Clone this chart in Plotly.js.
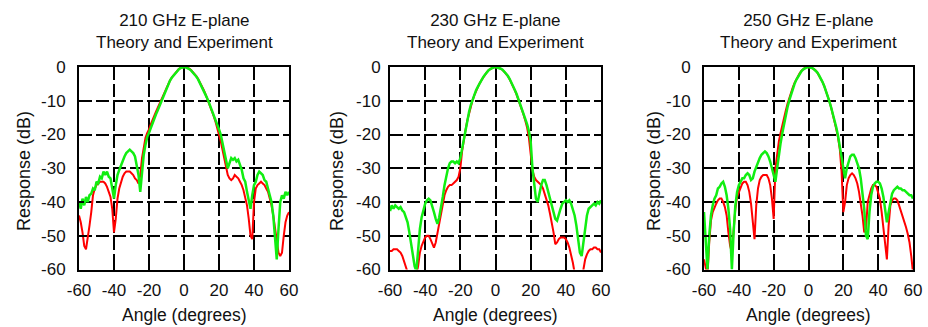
<!DOCTYPE html>
<html>
<head>
<meta charset="utf-8">
<script src="https://cdn.plot.ly/plotly-3.0.1.min.js"></script>
<style>html,body{margin:0;padding:0;background:#fff;}#chart{width:928px;height:327px;}</style>
</head>
<body>
<div id="chart"></div>
<script>
// ---------------- DATA ----------------
const PANEL_TITLES = ["210 GHz E-plane", "230 GHz E-plane", "250 GHz E-plane"];
const SUBTITLE = "Theory and Experiment";
const X_LABEL = "Angle (degrees)";
const Y_LABEL = "Response (dB)";
const X_TICKS = [-60, -40, -20, 0, 20, 40, 60];
const X_TICK_TEXT = ["-60", "-40", "-20", "0", "20", "40", "60"];
const Y_TICKS = [0, -10, -20, -30, -40, -50, -60];
const Y_TICK_TEXT = ["0", "-10", "-20", "-30", "-40", "-50", "-60"];

const ANGLE = [-60,-59,-58,-57,-56,-55,-54,-53,-52,-51,-50,-49,-48,-47,-46,-45,-44,-43,-42,-41,
-40,-39,-38,-37,-36,-35,-34,-33,-32,-31,-30,-29,-28,-27,-26,-25,-24,-23,-22,-21,
-20,-19,-18,-17,-16,-15,-14,-13,-12,-11,-10,-9,-8,-7,-6,-5,-4,-3,-2,-1,0,
1,2,3,4,5,6,7,8,9,10,11,12,13,14,15,16,17,18,19,20,
21,22,23,24,25,26,27,28,29,30,31,32,33,34,35,36,37,38,39,40,
41,42,43,44,45,46,47,48,49,50,51,52,53,54,55,56,57,58,59,60];

// 210 GHz
const THEORY_210 = [-44,-46,-49,-53,-54,-51,-47,-43,-38,-36,
-35,-34.5,-34,-34,-34,-34.5,-35.5,-37,-38.5,-42,
-49,-45,-39,-36,-34,-32.5,-31.5,-31,-31,-31,
-31.5,-32,-33,-33.5,-34.5,-32,-27,-23.5,-21,-19.5,
-18.5,-17,-15.5,-14.5,-13.2,-12,-10.8,-9.6,-8.4,-7.2,
-6,-5,-4,-3.1,-2.4,-1.7,-1.1,-0.6,-0.3,-0.1,
0,
0,-0.2,-0.5,-0.9,-1.4,-2,-2.7,-3.5,-4.4,-5.4,
-6.5,-7.7,-9,-10.3,-11.7,-13.1,-14.6,-16.2,-18,-20,
-22,-24.5,-27,-30,-32,-33,-33.5,-33,-32,-32.5,
-33,-34,-35,-36.5,-38.5,-41,-45,-50,-51,-40,
-36,-35,-34.5,-34,-34.5,-35,-36,-37,-39,-41,
-44,-48,-51,-55,-56,-55,-50,-46,-44,-43];
const EXPERIMENT_210 = [-40,-42,-39,-41,-38.5,-40,-38,-37.5,-36,-36.5,
-34,-34.5,-32.5,-33,-31,-32,-31,-32.5,-33,-36,
-39,-35,-32,-30.5,-29,-27.5,-26.5,-25.5,-25,-24.5,
-25,-25.5,-26.5,-29,-32,-37,-30,-26,-23,-20.7,
-19.5,-18,-16.7,-15.3,-14,-12.8,-11.5,-10.3,-9,-7.5,
-6.2,-5,-4,-3.2,-2.5,-1.8,-1.2,-0.7,-0.3,-0.1,
0,
-0.1,-0.3,-0.6,-1,-1.5,-2.1,-2.8,-3.6,-4.6,-5.6,
-6.8,-8,-9,-10.2,-11.5,-12.8,-14,-15.5,-17,-18.5,
-20,-22.5,-25,-28,-30,-28.5,-27,-27.5,-27,-28,
-27.5,-29,-30.5,-33,-34,-37,-40,-42,-38,-35,
-34,-32,-31,-31.5,-32,-33.5,-34,-36,-38,-40,
-44,-50,-57,-48,-40,-38,-39,-37,-38,-37];

// 230 GHz
const THEORY_230 = [-54.5,-54.5,-54,-54,-54,-54.5,-55,-56,-57.5,-59,
-61,-63,-64,-64,-63,-61.5,-59,-55,-53,-51.5,
-50.5,-50,-50,-51,-52.5,-53.5,-52,-49,-46.5,-43,
-40,-38,-36.5,-35.5,-35,-35,-34.5,-34,-33.5,-32.5,
-30,-25,-21,-18.5,-15.8,-13.5,-11.5,-9.8,-8.3,-7,
-5.9,-4.8,-3.9,-3,-2.3,-1.6,-1,-0.6,-0.3,-0.1,
0,
0,-0.2,-0.5,-0.9,-1.4,-2,-2.7,-3.6,-4.6,-5.7,
-6.9,-8.2,-9.6,-11,-12.6,-14.2,-16,-18,-21,-26,
-30.5,-32.5,-33.5,-34,-34.5,-35,-36,-37.5,-39,-41,
-43.5,-46,-49,-52.5,-52,-51,-50.5,-50.5,-50.5,-51,
-52,-53.5,-55.5,-58,-61,-63,-64,-63,-62,-60,
-57,-55.5,-54.5,-54,-54,-53.5,-53.5,-54,-54,-55];
const EXPERIMENT_230 = [-42.7,-41,-42,-41,-41.5,-42,-41.5,-42.5,-43,-44.5,
-46,-49,-52,-56,-59,-60.5,-53,-48,-44.5,-42,
-40.5,-39.5,-39,-39.5,-41,-43,-45,-46.5,-44.5,-42,
-38.5,-35,-32,-30,-28.5,-28,-28,-28.5,-28,-28.5,
-27,-24,-21,-18,-15.5,-13.2,-11.2,-9.5,-8,-6.8,
-5.8,-4.8,-3.8,-3,-2.3,-1.6,-1,-0.6,-0.3,-0.1,
0,
-0.1,-0.2,-0.5,-0.8,-1.3,-1.9,-2.6,-3.5,-4.5,-5.6,
-6.8,-8,-9.4,-10.8,-12.3,-13.8,-15.5,-17,-19,-22,
-30,-35,-39,-40,-37,-35,-33.5,-33.5,-35,-37,
-39,-41,-43,-45,-45.5,-43.5,-42,-40.5,-40,-39.5,
-40,-39.5,-40.5,-42,-44,-47,-51,-55,-56,-52,
-47,-44,-42,-41.5,-41,-40.5,-41,-40,-40.5,-39.5];

// 250 GHz
const THEORY_250 = [-57,-60,-62,-52,-45.5,-43,-41.5,-40.5,-39.5,-39,
-39,-40,-41.5,-44,-49,-53,-55,-48,-42,-38.5,
-37,-35.5,-34.5,-34,-34,-35,-37,-40.5,-47,-51,
-41,-36,-33.5,-32.5,-32,-32,-32,-33,-35,-39,
-45,-30,-25,-22,-19.5,-17,-14.8,-12.8,-10.8,-9,
-7.4,-6,-4.7,-3.6,-2.6,-1.8,-1.1,-0.6,-0.2,0,
0,
-0.1,-0.3,-0.6,-1,-1.6,-2.4,-3.3,-4.4,-5.6,-7,
-8.5,-10.2,-12,-14,-16,-18.5,-21,-24.5,-31,-43,
-40,-35,-33,-32,-31.5,-32,-33,-34.5,-37,-40,
-44,-49,-48,-40,-37.5,-36,-35,-35,-35.5,-37,
-39,-43,-48,-53,-57,-47,-41,-39.5,-39,-39,
-39.5,-41,-42.5,-44,-46,-47.5,-49.5,-52,-56,-61];
const EXPERIMENT_250 = [-43,-52,-60,-50,-44,-41,-39,-38,-36,-35.5,
-34.5,-34,-35.5,-38,-42,-48,-60,-49,-41,-37,
-35,-34,-33,-33,-32,-31.5,-32,-33.5,-33,-31,
-29.5,-28.5,-27,-26,-25.5,-25,-25.5,-26.5,-28,-30,
-32,-34,-30,-25.5,-22.5,-19.5,-16.5,-14,-11.8,-9.8,
-8,-6.4,-5,-3.8,-2.8,-1.9,-1.2,-0.7,-0.3,-0.1,
0,
-0.1,-0.3,-0.6,-1,-1.6,-2.4,-3.3,-4.4,-5.6,-7,
-8.5,-10.2,-12,-13.8,-15.8,-18,-20.5,-23.5,-26.5,-30,
-33,-30,-28,-26.5,-26,-26,-27,-28.5,-30,-33,
-37,-42,-50,-51,-43,-38,-35.5,-34.5,-34,-34,
-34.5,-36,-38.5,-42,-46,-43,-39.5,-37.5,-36.5,-36,
-35.5,-36,-36,-36.5,-36.5,-37,-37.5,-38,-38,-39];

const THEORY = [THEORY_210, THEORY_230, THEORY_250];
const EXPERIMENT = [EXPERIMENT_210, EXPERIMENT_230, EXPERIMENT_250];

// ---------------- LAYOUT ----------------
const W = 928, H = 327;
const FONT = "Liberation Sans, Arial, Helvetica, sans-serif";
const INK = "#111111";
const PLOT_X = [[79, 289], [390, 601], [704, 913]];
const PLOT_TOP = 67, PLOT_BOTTOM = 269.5;
const YLAB_X = [24, 337, 654];
const Y_STANDOFF = [8, 4, 8];
const px = v => v / W;
const py = v => 1 - v / H;

const traces = [];
const layout = {
  width: W, height: H,
  margin: {l: 0, r: 0, t: 0, b: 0},
  paper_bgcolor: "#ffffff", plot_bgcolor: "#ffffff",
  showlegend: false,
  font: {family: FONT, color: INK, size: 17},
  annotations: []
};

for (let i = 0; i < 3; i++) {
  const sfx = i === 0 ? "" : String(i + 1);
  traces.push({
    type: "scatter", mode: "lines", x: ANGLE, y: THEORY[i],
    xaxis: "x" + sfx, yaxis: "y" + sfx, name: "Theory",
    line: {color: "#ff0000", width: 2}
  });
  traces.push({
    type: "scatter", mode: "lines", x: ANGLE, y: EXPERIMENT[i],
    xaxis: "x" + sfx, yaxis: "y" + sfx, name: "Experiment",
    line: {color: "#11ee11", width: 2.5}
  });
  const common = {
    showgrid: true, gridcolor: "#000000", gridwidth: 2, griddash: "13px,4px",
    showline: true, linecolor: "#000000", linewidth: 2, mirror: true,
    ticks: "inside", ticklen: 5, tickwidth: 2, tickcolor: "#000000",
    zeroline: false, fixedrange: true,
    tickfont: {family: FONT, size: 17, color: INK}
  };
  layout["xaxis" + sfx] = Object.assign({}, common, {
    domain: [px(PLOT_X[i][0]), px(PLOT_X[i][1])],
    range: [-60, 60], tickmode: "array", tickvals: X_TICKS, ticktext: X_TICK_TEXT,
    anchor: "y" + sfx, ticklabelstandoff: 4
  });
  layout["yaxis" + sfx] = Object.assign({}, common, {
    domain: [py(PLOT_BOTTOM), py(PLOT_TOP)],
    range: [-60, 0], tickmode: "array", tickvals: Y_TICKS, ticktext: Y_TICK_TEXT,
    anchor: "x" + sfx, ticklabelstandoff: Y_STANDOFF[i]
  });
  const cx = (PLOT_X[i][0] + PLOT_X[i][1]) / 2;
  layout.annotations.push(
    {text: PANEL_TITLES[i] + "<br>" + SUBTITLE, xref: "paper", yref: "paper", x: px(cx), y: py(31),
     xanchor: "center", yanchor: "middle", align: "center", showarrow: false,
     font: {family: FONT, size: 17, color: INK}},
    {text: X_LABEL, xref: "paper", yref: "paper", x: px(cx), y: py(315),
     xanchor: "center", yanchor: "middle", showarrow: false, font: {family: FONT, size: 17.5, color: INK}},
    {text: Y_LABEL, xref: "paper", yref: "paper", x: px(YLAB_X[i]), y: py(171),
     xanchor: "center", yanchor: "middle", textangle: -90, showarrow: false,
     font: {family: FONT, size: 18, color: INK}}
  );
}

Plotly.newPlot("chart", traces, layout, {displayModeBar: false, staticPlot: true});
</script>
</body>
</html>
